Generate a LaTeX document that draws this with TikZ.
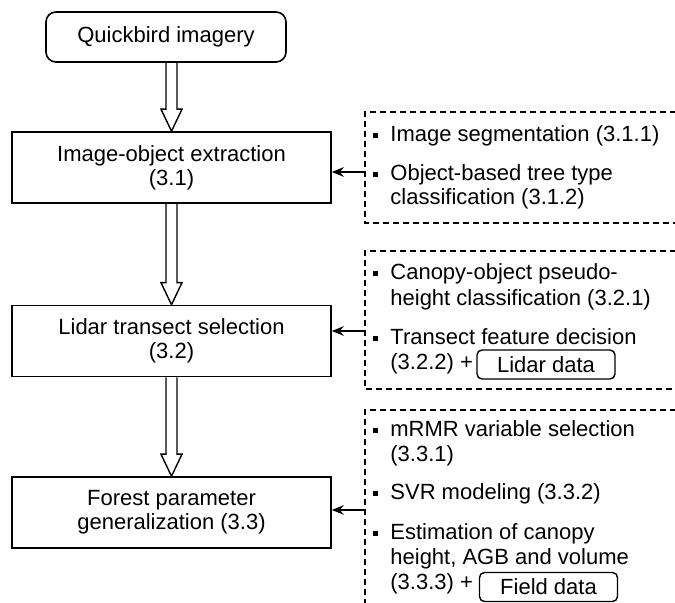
\documentclass[tikz,border=0pt]{standalone}
\usepackage{fontspec}
\setmainfont{Liberation Sans}
\usetikzlibrary{arrows.meta,calc}
\tikzstyle{src}=[rectangle,rounded corners=5pt,draw=black,line width=0.8pt,
  minimum width=120pt,minimum height=25pt,font=\fontsize{11}{12}\selectfont]
\tikzstyle{box}=[rectangle,draw=black,line width=0.8pt,align=center,
  minimum width=159.5pt,minimum height=35.5pt,font=\fontsize{11}{12}\selectfont]
\tikzstyle{data}=[rectangle,rounded corners=2.5pt,draw=black,line width=0.7pt,
  inner sep=0pt,minimum width=69pt,minimum height=14.5pt,font=\fontsize{11}{12}\selectfont]
\tikzstyle{txt}=[anchor=base west,inner sep=0pt,font=\fontsize{11}{12}\selectfont]
\tikzstyle{sq}=[rectangle,fill=black,inner sep=0pt,minimum size=2.6pt]
\tikzstyle{frame}=[draw=black,line width=0.6pt,dash pattern=on 3pt off 2pt]
\tikzstyle{feed}=[-{Stealth[length=6pt,width=4.8pt,inset=2pt]},line width=0.75pt]
\tikzstyle{hollow}=[draw=black,line width=0.7pt,to path={
  let \p1=(\tikztostart), \p2=(\tikztotarget) in
  (\x1-2.75pt,\y1) -- (\x1-2.75pt,\y2+11pt) -- (\x1-5.25pt,\y2+11pt) -- (\x1,\y2)
  -- (\x1+5.25pt,\y2+11pt) -- (\x1+2.75pt,\y2+11pt) -- (\x1+2.75pt,\y1) \tikztonodes}]
\tikzstyle{none}=[]

\begin{document}
\begin{tikzpicture}[x=0.5pt,y=-0.5pt]
            \useasboundingbox (0,0) rectangle (675,603);
            \node [style=src] (1) at (166, 37) {Quickbird imagery};
            \node [style=box] (2) at (171.5, 167.5) {Image-object extraction\\(3.1)};
            \node [style=box] (3) at (171.5, 341) {Lidar transect selection\\(3.2)};
            \node [style=box] (4) at (171.5, 512.5) {Forest parameter\\generalization (3.3)};
            \draw [style=hollow] (2.north |- 1.south) to (2.north);
            \draw [style=hollow] (2.south) to (3.north);
            \draw [style=hollow] (3.south) to (4.north);
            % dashed frames, open to the right
            \draw [style=frame] (676, 112) -| (365, 223) -- (676, 223);
            \draw [style=frame] (676, 251) -| (365, 389) -- (676, 389);
            \draw [style=frame] (676, 410) -| (365, 605);
            % 3.1
            \node [style=sq] (5) at (375.5, 135.5) {};
            \node [style=txt] (6) at (390, 142) {Image segmentation (3.1.1)};
            \node [style=sq] (7) at (375.5, 174.5) {};
            \node [style=txt] (8) at (390, 181) {Object-based tree type};
            \node [style=txt] (9) at (390, 205) {classification (3.1.2)};
            % 3.2
            \node [style=sq] (10) at (375.5, 273.5) {};
            \node [style=txt] (11) at (390, 280) {Canopy-object pseudo-};
            \node [style=txt] (12) at (390, 306) {height classification (3.2.1)};
            \node [style=sq] (13) at (375.5, 338.5) {};
            \node [style=txt] (14) at (390, 345) {Transect feature decision};
            \node [style=txt] (15) at (390, 370) {(3.2.2) +};
            \node [style=data] (16) at (546, 364.5) {Lidar data};
            % 3.3
            \node [style=sq] (17) at (375.5, 430.5) {};
            \node [style=txt] (18) at (390, 437) {mRMR variable selection};
            \node [style=txt] (19) at (390, 462) {(3.3.1)};
            \node [style=sq] (20) at (375.5, 493.5) {};
            \node [style=txt] (21) at (390, 500) {SVR modeling (3.3.2)};
            \node [style=sq] (22) at (375.5, 533.5) {};
            \node [style=txt] (23) at (390, 540) {Estimation of canopy};
            \node [style=txt] (24) at (390, 565) {height, AGB and volume};
            \node [style=txt] (25) at (390, 590) {(3.3.3) +};
            \node [style=data] (26) at (548.5, 587) {Field data};
            % feeds into the main boxes
            \coordinate (27) at (365, 172);
            \coordinate (28) at (365, 331);
            \coordinate (29) at (365, 510);
            \draw [style=feed] (27) to (27 -| 2.east);
            \draw [style=feed] (28) to (28 -| 3.east);
            \draw [style=feed] (29) to (29 -| 4.east);
    \end{tikzpicture}
\end{document}
